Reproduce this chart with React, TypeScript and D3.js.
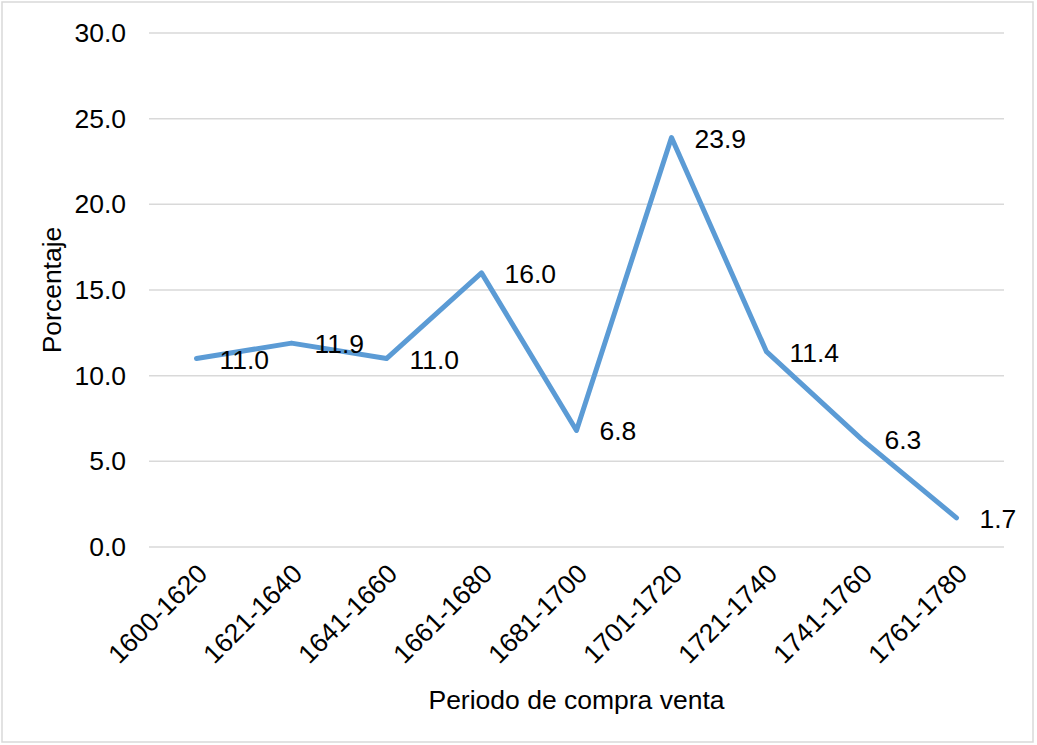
import React from "react";
import * as d3 from "d3";

const categories = ["1600-1620", "1621-1640", "1641-1660", "1661-1680", "1681-1700", "1701-1720", "1721-1740", "1741-1760", "1761-1780"];
const values = [11.0, 11.9, 11.0, 16.0, 6.8, 23.9, 11.4, 6.3, 1.7];
const yTicks = [0, 5, 10, 15, 20, 25, 30];
const xTitle = "Periodo de compra venta";
const yTitle = "Porcentaje";

const W = 1037;
const H = 745;
const left = 149;
const right = 1004;
const top = 33;
const bottom = 547;
const FONT = "'Liberation Sans', Arial, sans-serif";
const FS = 26.5;

export default function App() {
  const x = d3.scaleBand<string>().domain(categories).range([left, right]).padding(0);
  const y = d3.scaleLinear().domain([0, 30]).range([bottom, top]);
  const cx = (c: string) => (x(c) as number) + x.bandwidth() / 2;
  const line = d3
    .line<number>()
    .x((_, i) => cx(categories[i]))
    .y((d) => y(d));

  return (
    <svg width={W} height={H} style={{ position: "absolute", left: 0, top: 0 }} fontFamily={FONT}>
      <rect x={0} y={0} width={W} height={H} fill="#fff" />
      <rect x={2} y={2} width={1031} height={740} fill="none" stroke="#d9d9d9" strokeWidth={1.5} />
      {yTicks.map((t) => (
        <g key={t}>
          <line x1={left} x2={right} y1={y(t)} y2={y(t)} stroke="#d9d9d9" strokeWidth={1.5} />
          <text x={126} y={y(t)} textAnchor="end" dominantBaseline="central" fontSize={FS} fill="#000">
            {t.toFixed(1)}
          </text>
        </g>
      ))}
      {categories.map((c) => (
        <text
          key={c}
          transform={`translate(${cx(c) + 6},${bottom + 22}) rotate(-45)`}
          textAnchor="end"
          dominantBaseline="central"
          fontSize={FS}
          fill="#000"
        >
          {c}
        </text>
      ))}
      <path d={line(values) ?? ""} fill="none" stroke="#5b9bd5" strokeWidth={5} strokeLinejoin="round" strokeLinecap="round" />
      {values.map((v, i) => (
        <text
          key={i}
          x={cx(categories[i]) + 23}
          y={y(v) + 1}
          dominantBaseline="central"
          fontSize={FS}
          fill="#000"
        >
          {v.toFixed(1)}
        </text>
      ))}
      <text x={(left + right) / 2} y={700} textAnchor="middle" dominantBaseline="central" fontSize={FS} fill="#000">
        {xTitle}
      </text>
      <text
        transform={`translate(52,${(top + bottom) / 2}) rotate(-90)`}
        textAnchor="middle"
        dominantBaseline="central"
        fontSize={FS}
        fill="#000"
      >
        {yTitle}
      </text>
    </svg>
  );
}
